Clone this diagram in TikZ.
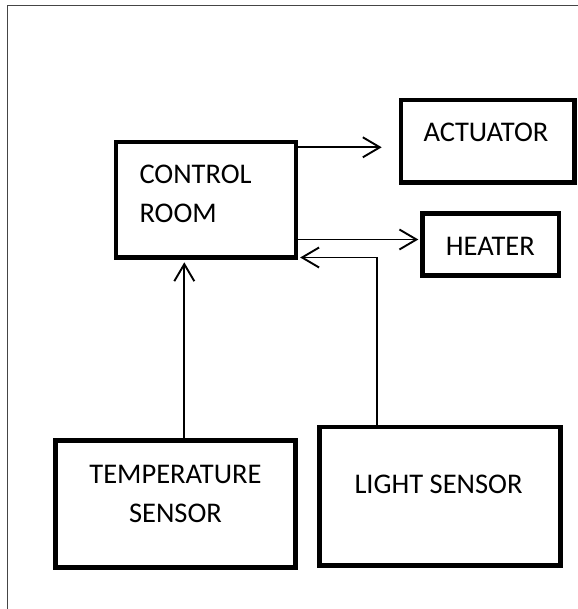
\documentclass[tikz,border=0pt]{standalone}
\usepackage{fontspec}
\setmainfont{Carlito}
\usetikzlibrary{arrows.meta}
\begin{document}
\begin{tikzpicture}[x=1pt,y=-1pt,
  box/.style={draw=black, line width=4.8pt, rectangle, inner sep=0pt},
  lbl/.style={inner sep=0pt, font=\fontsize{28.5}{39.5}\selectfont},
  arr/.style={draw=black, line width=1.9pt, -{Straight Barb[length=17pt,width=20pt,line width=1.9pt]}},
  frame/.style={draw=black!73, line width=1.6pt}]
\useasboundingbox (0,0) rectangle (577,609);
% outer frame (open at right and bottom)
\coordinate (fbl) at (7.3,612);
\coordinate (ftl) at (7.3,5.7);
\coordinate (ftr) at (580,5.7);
\draw[frame] (fbl) -- (ftl) -- (ftr);
% boxes
\node[box, minimum width=180pt, minimum height=115.5pt] (ctrl) at (206,199.75) {};
\node[box, minimum width=173.5pt, minimum height=82.5pt] (act) at (487.75,141.25) {};
\node[box, minimum width=136.3pt, minimum height=62.5pt] (heat) at (490.85,244.55) {};
\node[box, minimum width=240pt, minimum height=126.7pt] (temp) at (175.8,504.15) {};
\node[box, minimum width=240.4pt, minimum height=138.2pt] (light) at (440,496.1) {};
% labels (multi-line nodes: base anchor is the last line's baseline)
\node[lbl, anchor=base west, align=left] (ctrlT) at (139.3,222.7) {CONTROL\\ROOM};
\node[lbl, anchor=base west] (actT) at (423.3,141.7) {ACTUATOR};
\node[lbl, anchor=base west] (heatT) at (445.7,255) {HEATER};
\node[lbl, anchor=base, align=center] (tempT) at (175.5,522.7) {TEMPERATURE\\SENSOR};
\node[lbl, anchor=base west] (lightT) at (354.3,493.3) {LIGHT SENSOR};
% connector coordinates
\coordinate (a1) at (381.7,147.3);
\coordinate (h1) at (418.3,239.5);
\coordinate (t1) at (184.3,262.3);
\coordinate (l0) at (377.3,427);
\coordinate (l1) at (377.3,257.5);
\coordinate (l2) at (300.2,257.5);
% connectors
\draw[arr] (ctrl.east |- a1) -- (a1);
\draw[arr] (ctrl.east |- h1) -- (h1);
\draw[arr] (temp.north -| t1) -- (t1);
\draw[arr] (light.north -| l0) -- (l1) -- (l2);
\end{tikzpicture}
\end{document}
